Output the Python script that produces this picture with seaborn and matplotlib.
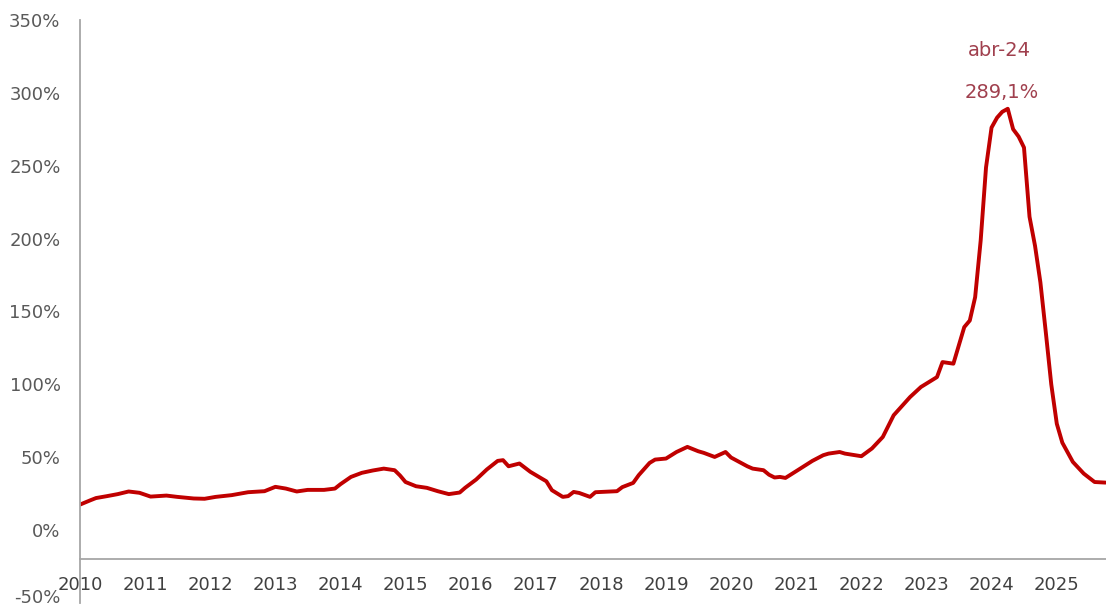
import matplotlib
matplotlib.use("Agg")
import matplotlib.pyplot as plt
from matplotlib.ticker import FuncFormatter
import matplotlib.transforms as mtransforms
import seaborn as sns
import pandas as pd

# ---------------- data ----------------
months = [
    "2010-01", "2010-03", "2010-04", "2010-06", "2010-08", "2010-10", "2010-12",
    "2011-02", "2011-05", "2011-07", "2011-10", "2011-12",
    "2012-02", "2012-05", "2012-08", "2012-11",
    "2013-01", "2013-03", "2013-05", "2013-07", "2013-10", "2013-12",
    "2014-01", "2014-03", "2014-05", "2014-07", "2014-09", "2014-11", "2014-12",
    "2015-01", "2015-03", "2015-05", "2015-07", "2015-09", "2015-11", "2015-12",
    "2016-02", "2016-04", "2016-06", "2016-07", "2016-08", "2016-10", "2016-12",
    "2017-02", "2017-03", "2017-04", "2017-06", "2017-07", "2017-08", "2017-09",
    "2017-11", "2017-12",
    "2018-04", "2018-05", "2018-07", "2018-08", "2018-10", "2018-11",
    "2019-01", "2019-03", "2019-05", "2019-07", "2019-08", "2019-10", "2019-12",
    "2020-01", "2020-04", "2020-05", "2020-07", "2020-08", "2020-09", "2020-10",
    "2020-11",
    "2021-01", "2021-04", "2021-06", "2021-07", "2021-09", "2021-10",
    "2022-01", "2022-03", "2022-05", "2022-07", "2022-10", "2022-12",
    "2023-03", "2023-04", "2023-06", "2023-08", "2023-09", "2023-10", "2023-11",
    "2023-12",
    "2024-01", "2024-02", "2024-03", "2024-04", "2024-05", "2024-06", "2024-07",
    "2024-08", "2024-09", "2024-10", "2024-11", "2024-12",
    "2025-01", "2025-02", "2025-04", "2025-06", "2025-08", "2025-10",
]
values = [
    17.5, 20.5, 22.0, 23.3, 24.7, 26.5, 25.6,
    23.0, 23.7, 22.8, 21.7, 21.5,
    22.8, 24.0, 26.0, 26.7,
    29.7, 28.5, 26.5, 27.6, 27.6, 28.5,
    31.5, 36.5, 39.3, 40.9, 42.2, 41.1, 37.5,
    33.0, 30.1, 29.0, 26.7, 24.7, 25.8, 29.0,
    34.7, 41.6, 47.5, 48.0, 43.8, 45.7, 40.0,
    35.5, 33.5, 27.4, 22.8, 23.3, 26.2, 25.5,
    22.8, 26.0,
    26.7, 29.5, 32.4, 37.7, 46.1, 48.4,
    49.1, 53.6, 57.1, 54.1, 53.0, 50.2, 53.6,
    49.8, 43.8, 42.2, 41.1, 38.0, 36.1, 36.5,
    35.8,
    40.5, 47.5, 51.4, 52.5, 53.6, 52.5,
    50.7, 56.0, 63.9, 78.8, 91.3, 98.2,
    105.0, 115.3, 114.2, 139.3, 143.8, 159.8, 198.6,
    248.8,
    276.2, 283.0, 287.0, 289.1, 275.1, 270.0, 262.5,
    215.0, 195.0, 170.0, 135.0, 100.0,
    73.0, 60.0, 46.8, 38.8, 33.0, 32.6,
]
peak_month = "2024-04"
peak_value = 289.1
peak_label_date = "abr-24"
peak_label_value = "289,1%"
y_ticks = [-50, 0, 50, 100, 150, 200, 250, 300, 350]
year_ticks = list(range(2010, 2026))

# ---------------- plot ----------------
sns.set_style("white")
plt.rcParams['font.family'] = ['DejaVu Sans']

df = pd.DataFrame({"fecha": pd.to_datetime(months), "valor": values})

fig = plt.figure(figsize=(11.06, 6.10), dpi=100)
ax = fig.add_axes([0.0723, 0.0115, 0.9277, 0.9557])

sns.lineplot(data=df, x="fecha", y="valor", ax=ax, color="#c00000",
             linewidth=2.8, solid_joinstyle="round", solid_capstyle="round")

ax.set_ylim(-50, 350)
ax.set_xlim(pd.Timestamp("2010-01-01"), pd.Timestamp("2025-10-04"))

for s in ["top", "right"]:
    ax.spines[s].set_visible(False)
ax.spines["bottom"].set_position(("data", -20))
for s in ["left", "bottom"]:
    ax.spines[s].set_color("#a6a6a6")
    ax.spines[s].set_linewidth(1.3)

ax.set_yticks(y_ticks)
ax.yaxis.set_major_formatter(FuncFormatter(lambda v, p: f"{int(v)}%"))
ax.set_xticks([pd.Timestamp(f"{y}-01-01") for y in year_ticks])
ax.set_xticklabels([str(y) for y in year_ticks])

ax.tick_params(axis="x", direction="out", length=5, width=1.2, color="#a6a6a6",
               pad=7, labelsize=13, labelcolor="#404040")
ax.tick_params(axis="y", direction="out", length=5, width=1.2, color="#a6a6a6",
               pad=9, labelsize=13, labelcolor="#595959")
ax.set_xlabel("")
ax.set_ylabel("")
ax.grid(False)

# lift the lowest y label slightly so it stays inside the picture
fig.canvas.draw()
low_label = ax.get_yticklabels()[0]
low_label.set_transform(low_label.get_transform() +
                        mtransforms.ScaledTranslation(0, 5 / 72, fig.dpi_scale_trans))

peak_x = pd.Timestamp(peak_month + "-01")
ax.annotate(peak_label_value, xy=(peak_x, peak_value), xytext=(-4, 11.5),
            textcoords="offset points", ha="center", va="center",
            fontsize=14, color="#a0404e")
ax.annotate(peak_label_date, xy=(peak_x, peak_value), xytext=(-6.3, 41.8),
            textcoords="offset points", ha="center", va="center",
            fontsize=14, color="#a0404e")

fig.savefig("out.png", dpi=100)
